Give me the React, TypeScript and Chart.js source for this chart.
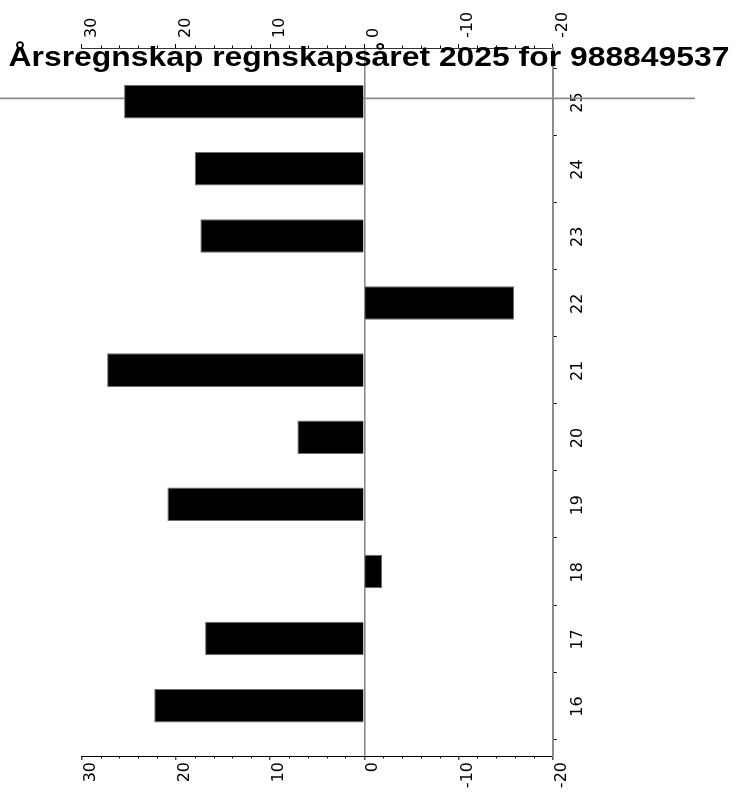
import React, { useEffect, useRef } from "react";
import { Chart, registerables } from "chart.js";

Chart.register(...registerables);

const titleText = "Årsregnskap regnskapsåret 2025 for 988849537";
const years = [16, 17, 18, 19, 20, 21, 22, 23, 24, 25];
const values = [22.3, 16.9, -1.9, 20.9, 7.1, 27.3, -15.9, 17.4, 18.0, 25.5];
const xMin = -20;
const xMax = 30;
const xMajorStep = 10;
const xMinorStep = 2;
const yMin = 15.25;
const yMax = 25.8;
const refLineValues = [25.05];

const tickFont = { family: "'DejaVu Sans', sans-serif", size: 16 };

const decorPlugin = {
  id: "decor",
  beforeDatasetsDraw(chart: any) {
    const { ctx, scales } = chart;
    const y = scales.y;
    ctx.save();
    ctx.strokeStyle = "#8a8a8a";
    ctx.lineWidth = 1.6;
    refLineValues.forEach((v) => {
      const py = y.getPixelForValue(v);
      ctx.beginPath();
      ctx.moveTo(0, py);
      ctx.lineTo(695, py);
      ctx.stroke();
    });
    ctx.restore();
  },
  afterDraw(chart: any) {
    const { ctx, scales } = chart;
    const x = scales.x;
    const x2 = scales.x2;
    ctx.save();
    ctx.strokeStyle = "#000";
    ctx.lineWidth = 1;
    for (let v = xMin; v <= xMax; v += xMinorStep) {
      if (v % xMajorStep === 0) continue;
      const px = Math.round(x.getPixelForValue(v)) + 0.5;
      ctx.beginPath();
      ctx.moveTo(px, x.top);
      ctx.lineTo(px, x.top + 2.5);
      ctx.stroke();
      const px2 = Math.round(x2.getPixelForValue(v)) + 0.5;
      ctx.beginPath();
      ctx.moveTo(px2, x2.bottom);
      ctx.lineTo(px2, x2.bottom - 2.5);
      ctx.stroke();
    }
    ctx.fillStyle = "#000";
    ctx.font = "bold 27px 'Liberation Sans', Arial, sans-serif";
    ctx.textAlign = "center";
    ctx.textBaseline = "alphabetic";
    ctx.translate(369, 66);
    ctx.scale(1.18, 1);
    ctx.fillText(titleText, 0, 0);
    ctx.restore();
  },
};

export default function App() {
  const canvasRef = useRef<HTMLCanvasElement | null>(null);

  useEffect(() => {
    const canvas = canvasRef.current;
    if (!canvas) return;
    const xAxisCommon = {
      type: "linear" as const,
      min: xMin,
      max: xMax,
      reverse: true,
      offset: false,
      ticks: {
        stepSize: xMajorStep,
        autoSkip: false,
        minRotation: 90,
        maxRotation: 90,
        font: tickFont,
        color: "#000",
        callback: (v: any) => String(v),
      },
    };
    const chart = new Chart(canvas, {
      type: "bar",
      data: {
        datasets: [
          {
            data: years.map((yr, i) => ({ x: values[i], y: yr })),
            backgroundColor: "#000",
            borderColor: "#6e6e6e",
            borderWidth: 1,
            borderSkipped: "start",
            barPercentage: 0.5,
            categoryPercentage: 1,
            xAxisID: "x",
            yAxisID: "y",
          },
        ],
      },
      options: {
        indexAxis: "y",
        responsive: false,
        animation: false,
        layout: { padding: { left: 81.7, right: 0, top: 0, bottom: 0 } },
        plugins: {
          legend: { display: false },
          tooltip: { enabled: false },
          title: { display: false },
        },
        scales: {
          x: {
            ...xAxisCommon,
            position: "bottom",
            ticks: { ...xAxisCommon.ticks, labelOffset: 9, padding: 2 },
            grid: {
              drawOnChartArea: true,
              color: (c: any) => (c.tick && c.tick.value === 0 ? "#8a8a8a" : "rgba(0,0,0,0)"),
              lineWidth: 1.6,
              tickColor: "#000",
              tickWidth: 1,
              tickLength: 4,
            },
            border: { display: true, color: "#000", width: 1 },
            afterFit: (s: any) => {
              s.height = 56;
            },
          },
          x2: {
            ...xAxisCommon,
            position: "top",
            ticks: { ...xAxisCommon.ticks, labelOffset: 29, padding: 6 },
            grid: {
              drawOnChartArea: false,
              tickColor: "#000",
              tickWidth: 1,
              tickLength: 4,
            },
            border: { display: true, color: "#333", width: 1 },
            afterFit: (s: any) => {
              s.height = 48;
            },
          },
          y: {
            type: "linear",
            position: "right",
            min: yMin,
            max: yMax,
            offset: false,
            bounds: "data",
            afterBuildTicks: (s: any) => {
              s.ticks = years.map((v) => ({ value: v }));
            },
            ticks: {
              minRotation: 90,
              maxRotation: 90,
              labelOffset: 11,
              padding: 21,
              font: tickFont,
              color: "#000",
              callback: (v: any) => String(v),
            },
            grid: {
              offset: true,
              drawOnChartArea: false,
              tickColor: "#000",
              tickWidth: 1,
              tickLength: 4,
            },
            border: { display: true, color: "#8a8a8a", width: 2 },
            afterFit: (s: any) => {
              s.width = 754 - 552.7;
            },
          },
        },
      } as any,
      plugins: [decorPlugin],
    });
    return () => chart.destroy();
  }, []);

  return (
    <div style={{ position: "absolute", left: 0, top: 0, width: 754, height: 812, background: "#fff" }}>
      <canvas ref={canvasRef} width={754} height={812} style={{ display: "block" }} />
    </div>
  );
}
